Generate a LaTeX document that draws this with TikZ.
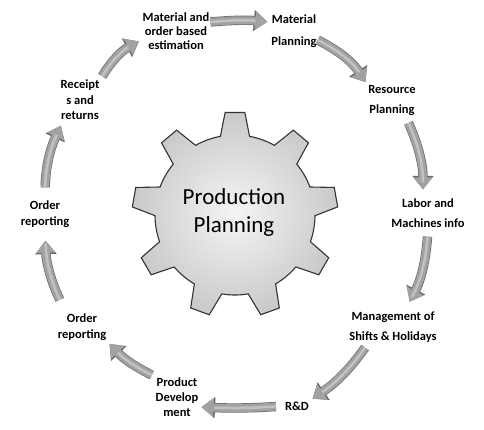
\documentclass[tikz,border=0pt]{standalone}
\usepackage{fontspec}
\setmainfont{Carlito}
\usetikzlibrary{arrows.meta,calc}
\definecolor{arrowgray}{HTML}{A2A2A2}
\definecolor{arrowedge}{HTML}{6A6A6A}
\tikzset{
  steplabel/.style={font=\bfseries\fontsize{12.5}{#1}\selectfont, align=center, inner sep=1pt},
  steplabel/.default=15,
  flowarrow/.style={line width=8pt, draw=arrowgray, -{Triangle[length=12pt,width=18pt]},
    shorten <=3pt, shorten >=3pt,
    preaction={draw=arrowedge, line width=9.4pt, -{Triangle[length=13.5pt,width=20.5pt]}},
    postaction={draw=white, draw opacity=0.35, line width=2.5pt, -, shorten >=15pt}},
}
\begin{document}
\begin{tikzpicture}[x=1pt,y=1pt]
\def\rb{80} %radius of gear body
\def\rt{103} %radius of tooth tips
\useasboundingbox (0,0) rectangle (484,-429);
% the gear
\begin{scope}[shift={(235,-215)}]
\draw[draw=black!80, line width=1.1pt, inner color=gray!8, outer color=gray!42]
  (79.5:\rb) \foreach \a in {90,130,...,410}{ -- (\a-10.5:\rb) -- (\a-5.5:\rt) -- (\a+5.5:\rt) -- (\a+10.5:\rb)
  arc[start angle=\a+10.5, end angle=\a+29.5, radius=\rb]} -- cycle;
\end{scope}
\node[font=\fontsize{23}{28}\selectfont, align=center] (prodplan) at (234,-212) {Production\\Planning};
% the steps
\node[steplabel=14] (est) at (176,-31) {Material and\\order based\\estimation};
\node[steplabel=22] (matplan) at (294,-31) {Material\\Planning};
\node[steplabel=20] (respl) at (392,-101) {Resource\\Planning};
\node[steplabel=20] (labor) at (428,-213) {Labor and\\Machines info};
\node[steplabel=20] (mgmt) at (393,-327) {Management of\\Shifts \& Holidays};
\node[steplabel] (rnd) at (297,-406) {R\&D};
\node[steplabel] (proddev) at (177,-397) {Product\\Develop\\ment};
\node[steplabel=16] (ordbot) at (82,-327) {Order\\reporting};
\node[steplabel=16] (ordmid) at (45,-214) {Order\\reporting};
\node[steplabel=15.5] (receipts) at (80,-100) {Receipt\\s and\\returns};
% arrows round the circle
\draw[flowarrow] (receipts.north east) to[bend left=15] ([yshift=-9pt]est.west);
\draw[flowarrow, shorten <=0pt] ([yshift=9pt]est.east) to[bend left=5] ([yshift=9pt]matplan.west);
\draw[flowarrow, shorten <=0pt] ([yshift=-9pt]matplan.east) to[bend left=15] (respl.north west);
\draw[flowarrow, shorten <=6pt, shorten >=8pt] ([xshift=14pt]respl.south) to[bend left=12] ([xshift=-5pt]labor.north);
\draw[flowarrow, shorten <=8pt, shorten >=10pt] (labor.south) to[bend left=12] ([xshift=12pt]mgmt.north);
\draw[flowarrow, shorten <=5pt] ([xshift=-25pt]mgmt.south) to[bend left=10] (rnd.north east);
\draw[flowarrow, shorten <=8pt, shorten >=2pt] (rnd.west) to[bend left=3] ([yshift=-10pt]proddev.east);
\draw[flowarrow] (proddev.north west) to[bend left=10] (ordbot.south east);
\draw[flowarrow, shorten <=14pt, shorten >=12pt] ([xshift=-16pt]ordbot.north) to[bend left=12] (ordmid.south);
\draw[flowarrow, shorten <=12pt, shorten >=5pt] (ordmid.north) to[bend left=12] ([xshift=-17pt]receipts.south);
\end{tikzpicture}
\end{document}
